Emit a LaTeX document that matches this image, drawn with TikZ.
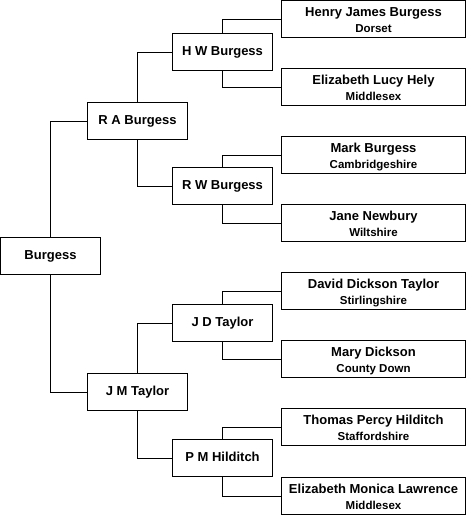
\documentclass[tikz,border=0pt]{standalone}
\usepackage{fontspec}
\setmainfont{Liberation Sans}
\begin{document}
\begin{tikzpicture}[x=1pt,y=-1pt,
  box/.style={draw,line width=1pt,minimum width=100pt,minimum height=37pt,inner sep=0pt},
  pbox/.style={box,minimum width=184pt},
  nm/.style={font=\fontsize{13}{15}\selectfont\bfseries,anchor=base,inner sep=0pt},
  sub/.style={font=\fontsize{11.5}{13}\selectfont\bfseries,anchor=base,inner sep=0pt},
  link/.style={line width=1pt}]
\useasboundingbox (0,0) rectangle (466,515);
% generation 1
\node[box] (bu) at (50.5,256) {};
\node[nm] (bu-t) at ([yshift=-22.5pt]bu.north) {Burgess};
% generation 2
\node[box] (ra) at (137.5,121) {};
\node[nm] (ra-t) at ([yshift=-22.5pt]ra.north) {R A Burgess};
\node[box] (jm) at (137.5,392) {};
\node[nm] (jm-t) at ([yshift=-22.5pt]jm.north) {J M Taylor};
% generation 3
\node[box] (hw) at (222.5,52) {};
\node[nm] (hw-t) at ([yshift=-22.5pt]hw.north) {H W Burgess};
\node[box] (rw) at (222.5,186) {};
\node[nm] (rw-t) at ([yshift=-22.5pt]rw.north) {R W Burgess};
\node[box] (jd) at (222.5,323) {};
\node[nm] (jd-t) at ([yshift=-22.5pt]jd.north) {J D Taylor};
\node[box] (pm) at (222.5,458) {};
\node[nm] (pm-t) at ([yshift=-22.5pt]pm.north) {P M Hilditch};
% generation 4
\node[pbox] (p1) at (373.5,19) {};
\node[nm] (p1-t) at ([yshift=-16pt]p1.north) {Henry James Burgess};
\node[sub] (p1-s) at ([yshift=-32pt]p1.north) {Dorset};
\node[pbox] (p2) at (373.5,87) {};
\node[nm] (p2-t) at ([yshift=-16pt]p2.north) {Elizabeth Lucy Hely};
\node[sub] (p2-s) at ([yshift=-32pt]p2.north) {Middlesex};
\node[pbox] (p3) at (373.5,155) {};
\node[nm] (p3-t) at ([yshift=-16pt]p3.north) {Mark Burgess};
\node[sub] (p3-s) at ([yshift=-32pt]p3.north) {Cambridgeshire};
\node[pbox] (p4) at (373.5,223) {};
\node[nm] (p4-t) at ([yshift=-16pt]p4.north) {Jane Newbury};
\node[sub] (p4-s) at ([yshift=-32pt]p4.north) {Wiltshire};
\node[pbox] (p5) at (373.5,291) {};
\node[nm] (p5-t) at ([yshift=-16pt]p5.north) {David Dickson Taylor};
\node[sub] (p5-s) at ([yshift=-32pt]p5.north) {Stirlingshire};
\node[pbox] (p6) at (373.5,359) {};
\node[nm] (p6-t) at ([yshift=-16pt]p6.north) {Mary Dickson};
\node[sub] (p6-s) at ([yshift=-32pt]p6.north) {County Down};
\node[pbox] (p7) at (373.5,427) {};
\node[nm] (p7-t) at ([yshift=-16pt]p7.north) {Thomas Percy Hilditch};
\node[sub] (p7-s) at ([yshift=-32pt]p7.north) {Staffordshire};
\node[pbox] (p8) at (373.5,496) {};
\node[nm] (p8-t) at ([yshift=-16pt]p8.north) {Elizabeth Monica Lawrence};
\node[sub] (p8-s) at ([yshift=-32pt]p8.north) {Middlesex};
% connectors
\draw[link] (bu.north) |- (ra.west);
\draw[link] (bu.south) |- (jm.west);
\draw[link] (ra.north) |- (hw.west);
\draw[link] (ra.south) |- (rw.west);
\draw[link] (jm.north) |- (jd.west);
\draw[link] (jm.south) |- (pm.west);
\draw[link] (hw.north) |- (p1.west);
\draw[link] (hw.south) |- (p2.west);
\draw[link] (rw.north) |- (p3.west);
\draw[link] (rw.south) |- (p4.west);
\draw[link] (jd.north) |- (p5.west);
\draw[link] (jd.south) |- (p6.west);
\draw[link] (pm.north) |- (p7.west);
\draw[link] (pm.south) |- (p8.west);
\end{tikzpicture}
\end{document}
